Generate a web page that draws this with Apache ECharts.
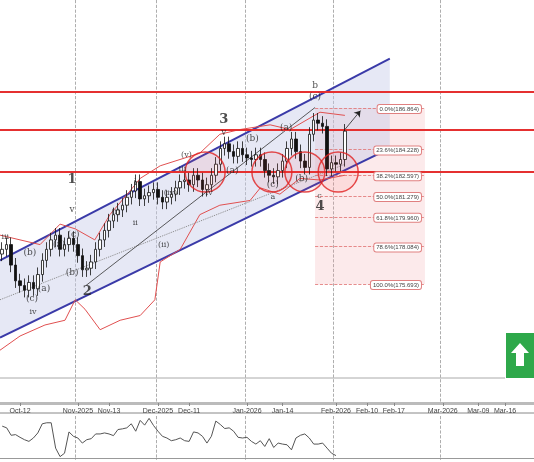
<!DOCTYPE html>
<html><head><meta charset="utf-8">
<script src="https://cdn.jsdelivr.net/npm/echarts@6/dist/echarts.min.js"></script>
<style>html,body{margin:0;padding:0;background:#fff}#c{width:534px;height:462px}</style>
</head><body><div id="c"></div>
<script>
// daily closes (weekday bars)
const closes = [177.9,178.2,176.9,175.9,175.6,175.3,175.8,175.4,176.3,177.2,177.9,178.5,178.8,177.9,178.2,178.6,178.2,177.5,176.6,176.7,
  177.1,177.9,178.5,179.1,179.7,180.1,180.4,180.7,181.2,181.6,182.2,181.1,181.3,181.5,181.7,181.2,180.9,181.2,181.4,181.8,
  182.2,182.3,182.0,182.6,182.3,181.7,182.0,182.6,183.3,184.3,184.6,184.1,183.8,184.3,183.9,183.7,183.6,183.9,183.6,182.9,
  182.6,182.5,182.9,183.5,184.3,184.9,184.1,183.5,183.1,185.2,186.1,185.9,185.7,183.0,183.4,183.3,183.6,185.4];
const firstOpen = 177.6;
const oscValues = [95,90,68,70,62,55,50,60,75,102,105,105,30,5,15,78,65,60,45,55,58,72,72,75,72,67,85,87,90,102,
  80,112,98,118,97,80,65,60,52,55,60,52,50,78,75,65,45,65,110,100,88,90,80,62,60,62,50,42,52,35,
  58,32,45,42,40,25,60,68,72,60,42,42,45,30,15,8];
const totalBars = 120;
const tickPos = [4, 17, 24, 35, 42, 55, 63, 75, 82, 88, 99, 107, 113];
const tickLabels = ['Oct-12','Nov-2025','Nov-13','Dec-2025','Dec-11','Jan-2026','Jan-14','Feb-2026','Feb-10','Feb-17','Mar-2026','Mar-09','Mar-16'];
const monthLines = [17, 35, 55, 75, 99];
const resistance = [187.9, 185.5, 182.8];
const fibPct = ['0.0%','23.6%','38.2%','50.0%','61.8%','78.6%','100.0%'];
const fibVal = [186.864, 184.228, 182.597, 181.279, 179.960, 178.084, 175.693];
const fibStart = 70.3, fibEnd = 95;
const channelUpper = [[-0.5, 177.2], [87.1, 190.0]];
const channelLower = [[-0.5, 172.3], [87.1, 184.3]];
const bandUpper = [[-0.5,178.8],[8.5,178.2],[13,179.5],[16.4,179.2],[20.8,178.5],[24.2,180.1],[28.7,181.6],[31,182.4],[35.5,183.2],[44.4,184.0],[48.9,185.2],[53.4,185.5],[60.2,185.8],[64.7,185.5],[71.4,186.6],[77,186.4]];
const bandLower = [[-0.5,171.5],[4,172.4],[9.6,173.1],[14.1,173.4],[16.4,174.7],[18.6,174.1],[22,172.8],[26.5,173.4],[31,173.7],[34.3,174.7],[35.5,177.1],[40,177.9],[44.4,180.1],[48.9,180.7],[55.7,181.0],[58,181.8],[62.4,181.4],[66.9,182.4],[71.4,182.3],[77,182.6]];
const midLine = [[-0.5,174.7],[77,183.3]];
const trendLine = [[18.8,175.6],[70.3,186.9]];
const circles = [[45.6,182.8],[60.6,182.8],[68,182.8],[75.5,182.8]];
const waveLabels = [[15.7,182.3,'1',13],[19.1,175.2,'2',13],[49.8,186.1,'3',13],[71.4,180.6,'4',13],
  [15.7,180.4,'v',9],[29.9,182.1,'i',9],[49.8,185.3,'v',9],[70.3,187.6,'(c)',9],[70.3,188.3,'b',9],
  [16,178.8,'(c)',9],[12.8,178.2,'(a)',9],[6.2,177.7,'(b)',9],[6.7,174.8,'(c)',9],[6.9,173.9,'iv',8],[0.7,178.7,'iii',8],
  [9.4,175.4,'(a)',9],[15.7,176.4,'(b)',9],[29.9,179.6,'ii',8],[40.5,183.0,'iii',8],[46.5,181.5,'iv',8],[41.4,183.9,'(v)',8],
  [37.8,181.5,'(iv)',8],[51.7,182.9,'(a)',9],[56.2,184.9,'(b)',9],[60.8,182.0,'(c)',9],[60.8,181.2,'a',8],[67.3,182.4,'(b)',9],[63.8,185.6,'(a)',9],[71.3,181.3,'c',8],[36.3,178.2,'(ii)',8],[25.5,180.3,'(i)',8]];

const cats = Array.from({length: totalBars}, (_, i) => String(i));
const candles = closes.map((c, i) => {
  const o = i === 0 ? firstOpen : closes[i - 1];
  return [o, c, Math.min(o, c) - 0.45, Math.max(o, c) + 0.45];
});
const chart = echarts.init(document.getElementById('c'));

const series = [
  {type:'custom', xAxisIndex:1, yAxisIndex:0, data:[0], z:1, silent:true,
    renderItem:(params, api) => {
      const pts = [channelLower[0], channelLower[1], channelUpper[1], channelUpper[0]].map(p => api.coord(p));
      return {type:'polygon', shape:{points:pts}, style:{fill:'rgba(200,205,232,0.45)'}};
    }},
  {type:'line', xAxisIndex:1, data:channelLower, symbol:'none', lineStyle:{color:'#3a3aa8', width:2}, z:2},
  {type:'line', xAxisIndex:1, data:channelUpper, symbol:'none', lineStyle:{color:'#3a3aa8', width:2}, z:2},
  {type:'line', xAxisIndex:1, data:bandUpper, symbol:'none', lineStyle:{color:'#e05050', width:1}, z:2},
  {type:'line', xAxisIndex:1, data:bandLower, symbol:'none', lineStyle:{color:'#e05050', width:1}, z:2},
  {type:'line', xAxisIndex:1, data:midLine, symbol:'none', lineStyle:{color:'#888', width:1, type:'dotted'}, z:2},
  {type:'line', xAxisIndex:1, data:trendLine, symbol:'none', lineStyle:{color:'#333', width:0.8}, z:2},
  {type:'line', xAxisIndex:1, data:[], symbol:'none',
    markArea:{silent:true, itemStyle:{color:'rgba(240,160,165,0.22)'}, data:[[{xAxis:fibStart, yAxis:fibVal[0]},{xAxis:fibEnd, yAxis:fibVal[6]}]]},
    markLine:{silent:true, symbol:'none', data: fibVal.map((v, i) => [
      {coord:[fibStart, v], lineStyle:{color:'#e07070', type:'dashed', width:0.8}},
      {coord:[fibEnd, v], label:{show:true, position:'insideEndTop', distance:[4,-5], formatter: fibPct[i] + '(' + v.toFixed(3) + ')',
        fontSize:6, color:'#444', backgroundColor:'#fff', borderColor:'#e08080', borderWidth:1, borderRadius:2, padding:[1,2]}}
    ]).concat([[{coord:[77,185.5], lineStyle:{color:'#222', width:0.8, type:'solid'}, symbol:'none'},{coord:[80.5,186.7], symbol:'arrow', symbolSize:6}]])}, z:3},
  {type:'line', xAxisIndex:1, data:[], symbol:'none',
    markLine:{silent:true, symbol:'none', label:{show:false}, lineStyle:{color:'#e53030', width:2, type:'solid'}, data: resistance.map(v => ({yAxis:v}))}, z:4},
  {type:'candlestick', xAxisIndex:0, yAxisIndex:0, data:candles, barWidth:3,
    itemStyle:{color:'#fff', color0:'#111', borderColor:'#111', borderColor0:'#111', borderWidth:0.8}, z:5},
  {type:'scatter', xAxisIndex:1, data:circles, symbolSize:40,
    itemStyle:{color:'rgba(255,80,80,0.12)', borderColor:'#e02020', borderWidth:1.5}, z:6},
  {type:'scatter', xAxisIndex:1, data:waveLabels.map(w => ({value:[w[0], w[1]], label:{formatter:w[2], fontSize:w[3],
      fontWeight: w[3] > 10 ? 'bold' : 'normal'}})), symbolSize:0,
    label:{show:true, position:'inside', color:'#222', fontFamily:'DejaVu Serif'}, z:7},
  {type:'line', xAxisIndex:2, yAxisIndex:1, data:oscValues, symbol:'none', lineStyle:{color:'#555', width:1}}
];

chart.setOption({
  animation:false,
  backgroundColor:'#fff',
  grid:[{left:0, right:0, top:0, height:403}, {left:0, right:0, top:416, height:44}],
  xAxis:[
    {type:'category', gridIndex:0, data:cats, boundaryGap:true,
      axisLine:{lineStyle:{color:'#bbb', width:3}}, axisTick:{show:true, alignWithLabel:true, interval:(i) => tickPos.includes(i), lineStyle:{color:'#888'}, length:3},
      axisLabel:{interval:(i) => tickPos.includes(i), formatter:(v, i) => tickLabels[tickPos.indexOf(i)] || '', fontSize:7, color:'#444', margin:5, fontFamily:'Liberation Sans'},
      splitLine:{show:true, interval:(i) => monthLines.includes(i), lineStyle:{color:'#999', type:'dashed', width:0.8}}},
    {type:'value', gridIndex:0, min:-0.5, max:totalBars - 0.5, show:false},
    {type:'category', gridIndex:1, data:cats, boundaryGap:true, axisLine:{lineStyle:{color:'#999'}}, axisTick:{show:false}, axisLabel:{show:false},
      splitLine:{show:true, interval:(i) => monthLines.includes(i), lineStyle:{color:'#999', type:'dashed', width:0.8}}}
  ],
  yAxis:[
    {type:'value', gridIndex:0, min:168.15, max:193.72, show:false},
    {type:'value', gridIndex:1, min:-5, max:125, show:false}
  ],
  series,
  graphic:[
    {type:'line', shape:{x1:0, y1:378, x2:505, y2:378}, style:{stroke:'#aaa', lineWidth:1}},
    {type:'line', shape:{x1:0, y1:413, x2:534, y2:413}, style:{stroke:'#888', lineWidth:1}},
    {type:'rect', shape:{x:506, y:333, width:28, height:45}, style:{fill:'#2ea84a'}},
    {type:'polygon', shape:{points:[[520,343],[511,353],[516,353],[516,366],[524,366],[524,353],[529,353]]}, style:{fill:'#fff'}}
  ]
});
</script></body></html>
